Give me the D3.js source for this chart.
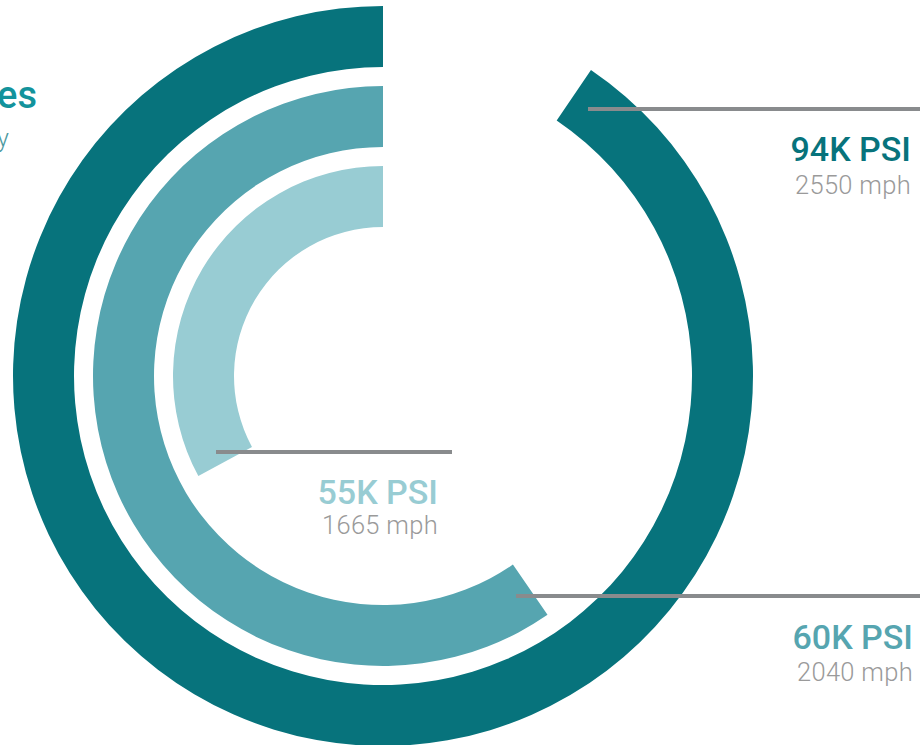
<!DOCTYPE html>
<html>
<head>
<meta charset="utf-8">
<script src="https://cdn.jsdelivr.net/npm/d3@7"></script>
<style>
  html, body { margin: 0; padding: 0; background: #ffffff; }
  svg { display: block; }
</style>
</head>
<body>
<svg id="chart" width="920" height="745"></svg>
<script>
// ---- data ----
const categories = ["94K PSI", "60K PSI", "55K PSI"];
const pressures = ["94K PSI", "60K PSI", "55K PSI"];
const velocities = ["2550 mph", "2040 mph", "1665 mph"];
// share of a full turn each ring covers
const shares = [0.905, 0.596, 0.329];
const colors = ["#07737c", "#56a5b0", "#98ccd3"];
const titleText = "Chamber Pressures";
const subtitleText = "and Muzzle Velocity";

// ---- layout ----
const svg = d3.select("#chart");
const cx = 383, cy = 376;

const radius = d3.scaleBand()
  .domain(categories.slice().reverse())
  .range([149, 370])
  .paddingInner(0.2375)
  .paddingOuter(0);

const angle = d3.scaleLinear().domain([0, 1]).range([0, -2 * Math.PI]);

const g = svg.append("g").attr("transform", `translate(${cx},${cy})`);

const arc = d3.arc()
  .innerRadius(d => radius(d.cat))
  .outerRadius(d => radius(d.cat) + radius.bandwidth())
  .startAngle(0)
  .endAngle(d => angle(d.share));

const rows = categories.map((c, i) => ({
  cat: c, share: shares[i], color: colors[i],
  psi: pressures[i], mph: velocities[i]
}));

g.selectAll("path.ring")
  .data(rows)
  .join("path")
  .attr("class", "ring")
  .attr("d", arc)
  .attr("fill", d => d.color);

// ---- leader lines and labels ----
const labelPos = [
  { ly: 109, x1: 588, x2: 922, tx: 911, by1: 161, by2: 194 },
  { ly: 596, x1: 516, x2: 922, tx: 913, by1: 649, by2: 681 },
  { ly: 452, x1: 216, x2: 452, tx: 438, by1: 504, by2: 534 }
];

rows.forEach((d, i) => {
  const p = labelPos[i];
  svg.append("line")
    .attr("x1", p.x1).attr("x2", p.x2)
    .attr("y1", p.ly).attr("y2", p.ly)
    .attr("stroke", "#898b8d")
    .attr("stroke-width", 4);
  svg.append("text")
    .attr("x", p.tx).attr("y", p.by1)
    .attr("text-anchor", "end")
    .attr("font-family", "Roboto, 'Noto Sans', sans-serif")
    .attr("font-weight", 500)
    .attr("font-size", 34)
    .attr("fill", d.color)
    .text(d.psi);
  svg.append("text")
    .attr("x", p.tx).attr("y", p.by2)
    .attr("text-anchor", "end")
    .attr("font-family", "Roboto, 'Noto Sans', sans-serif")
    .attr("font-weight", 300)
    .attr("font-size", 25.5)
    .attr("letter-spacing", 0.3)
    .attr("fill", "#9a9a9a")
    .text(d.mph);
});

// ---- title (partly cut off at the left edge, as in the source) ----
svg.append("text")
  .attr("x", 37).attr("y", 108)
  .attr("text-anchor", "end")
  .attr("font-family", "Roboto, 'Noto Sans', sans-serif")
  .attr("font-weight", 500)
  .attr("font-size", 38)
  .attr("fill", "#13939c")
  .text(titleText);

svg.append("text")
  .attr("x", 9).attr("y", 147)
  .attr("text-anchor", "end")
  .attr("font-family", "Roboto, 'Noto Sans', sans-serif")
  .attr("font-weight", 300)
  .attr("font-size", 25)
  .attr("fill", "#4d9aa1")
  .text(subtitleText);
</script>
</body>
</html>
